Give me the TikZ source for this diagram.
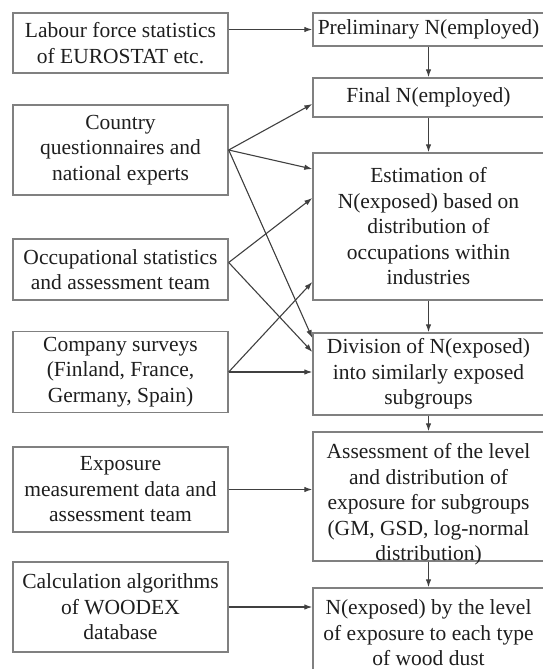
\documentclass[tikz,border=0pt]{standalone}
\usepackage{fontspec}
\setmainfont{Liberation Serif}
\usetikzlibrary{arrows.meta}

\definecolor{boxgray}{HTML}{808080}
\definecolor{linegray}{HTML}{404040}
\definecolor{textgray}{HTML}{1E1E1E}

\tikzset{
    steptext/.style={text=textgray, align=center, inner sep=0pt,
        font=\fontsize{21.5}{25.5}\selectfont},
    srcbox/.style={steptext, draw=boxgray, line width=1.4pt, minimum width=215pt},
    stepbox/.style={srcbox, minimum width=231pt},
    arr/.style={draw=linegray, line width=1.1pt, -{Latex[length=8pt,width=5.5pt]}}
}

\begin{document}
\begin{tikzpicture}[x=1pt, y=-1pt]
    \useasboundingbox (0,0) rectangle (543,669);
    \clip (0,0) rectangle (543,669);
    % sources
    \node[srcbox, minimum height=60pt] (lab) at (120.5,43) %
        {Labour force statistics\\of EUROSTAT etc.};
    \node[srcbox, minimum height=90pt] (cq) at (120.5,150) %
        {Country\\questionnaires and\\national experts};
    \node[srcbox, minimum height=61pt] (occ) at (120.5,269.5) %
        {Occupational statistics\\and assessment team};
    \node[srcbox, minimum height=81pt] (surv) at (120.5,372) %
        {Company surveys\\(Finland, France,\\Germany, Spain)};
    \node[srcbox, minimum height=85pt] (meas) at (120.5,489.5) %
        {Exposure\\measurement data and\\assessment team};
    \node[srcbox, minimum height=90pt] (alg) at (120.5,607) %
        {Calculation algorithms\\of WOODEX\\database};
    % steps
    \node[stepbox, minimum height=33pt] (pre) at (428.5,29.5) {Preliminary N(employed)};
    \node[stepbox, minimum height=39pt] (fin) at (428.5,97.5) {Final N(employed)};
    \node[stepbox, minimum height=147pt] (est) at (428.5,226.5) %
        {Estimation of\\N(exposed) based on\\distribution of\\occupations within\\industries};
    \node[stepbox, minimum height=82pt] (div) at (428.5,374) %
        {Division of N(exposed)\\into similarly exposed\\subgroups};
    \node[stepbox, minimum height=129pt] (ass) at (428.5,496.5) {};
    \node[steptext] (asstext) at ([yshift=-8pt]ass.center) %
        {Assessment of the level\\and distribution of\\exposure for subgroups\\(GM, GSD, log-normal\\distribution)};
    \node[stepbox, minimum height=90pt] (nex) at (428.5,633) %
        {N(exposed) by the level\\of exposure to each type\\of wood dust};
    % inputs
    \draw[arr] (lab.east |- pre.west) -- (pre.west);
    \draw[arr] (cq.east) -- (fin.west |- 0,104);
    \draw[arr] (cq.east) -- (est.west |- 0,169);
    \draw[arr] (cq.east) -- (div.west |- 0,338);
    \draw[arr] ([yshift=7pt]occ.east) -- (est.west |- 0,198);
    \draw[arr] ([yshift=7pt]occ.east) -- (div.west |- 0,352);
    \draw[arr] (surv.east) -- (est.west |- 0,282);
    \draw[arr] (surv.east) -- (surv.east -| div.west);
    \draw[arr] (meas.east) -- (meas.east -| ass.west);
    \draw[arr] (alg.east) -- (alg.east -| nex.west);
    % chain
    \draw[arr] (pre) -- (fin);
    \draw[arr] (fin) -- (est);
    \draw[arr] (est) -- (div);
    \draw[arr] (div) -- (ass);
    \draw[arr] (ass) -- (nex);
\end{tikzpicture}
\end{document}
